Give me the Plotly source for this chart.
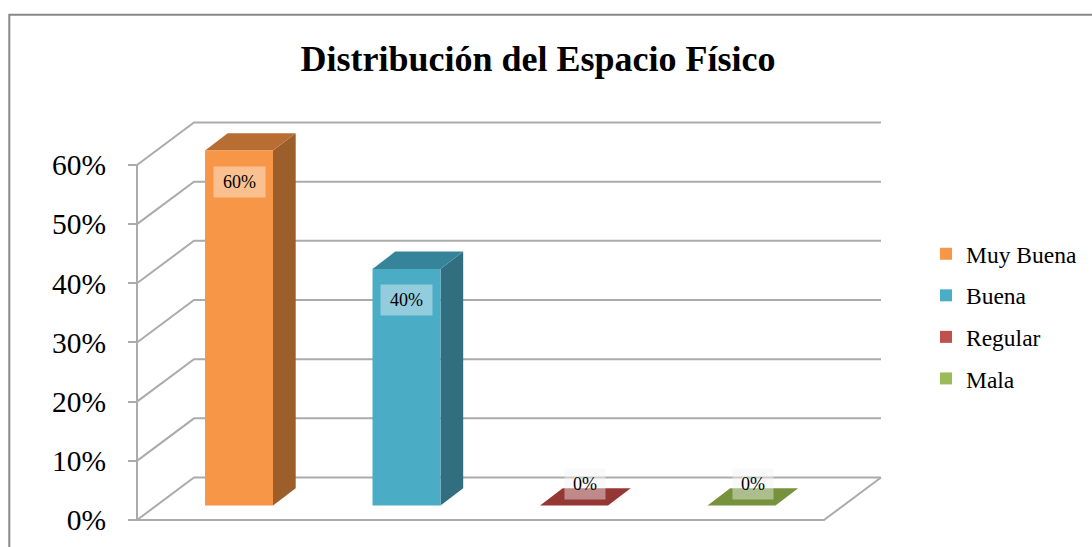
import plotly.graph_objects as go

# ---- data ----
categories = ["Muy Buena", "Buena", "Regular", "Mala"]
values = [0.60, 0.40, 0.00, 0.00]
label_texts = ["60%", "40%", "0%", "0%"]
front_colors = ["#F79646", "#4BACC6", "#C0504D", "#9BBB59"]
side_colors = ["#9C5E2B", "#316F80", "#7E2F2D", "#627A36"]
top_colors = ["#B86E33", "#36849A", "#953735", "#76923C"]
tick_vals = [0.0, 0.1, 0.2, 0.3, 0.4, 0.5, 0.6]
tick_text = ["0%", "10%", "20%", "30%", "40%", "50%", "60%"]
title_text = "Distribución del Espacio Físico"

# ---- 3D-look geometry (pixel sizes turned into axis units) ----
PX_X = 167.5          # pixels per category step
PX_Y = 591.7          # pixels per 100 %
WALL_DX, WALL_DY = 57 / PX_X, 42.5 / PX_Y     # depth of the floor / side wall
BAR_W = 68 / PX_X                              # front width of a bar
BAR_DX, BAR_DY = 22.7 / PX_X, 17.3 / PX_Y      # depth of a bar
BAR_BASE = 14.4 / PX_Y                         # bars stand inside the floor
X_FRONT = -102 / PX_X                          # front value axis
X_BACK = 642 / PX_X                            # right edge of the back wall

W, H = 1092, 547
ML, MR, MT, MB = 120, 202, 95, 17
plot_w, plot_h = W - ML - MR, H - MT - MB
x0 = X_FRONT - (137 - ML) / PX_X
y0 = -(H - MB - 520) / PX_Y

FONT = "Liberation Serif"
GRID = "#ABABAB"

fig = go.Figure()

# front faces as real bars (legend entries come from these)
for i, (cat, v) in enumerate(zip(categories, values)):
    fig.add_trace(go.Bar(
        x=[i], y=[v], base=[BAR_BASE], width=[BAR_W], name=cat,
        marker=dict(color=front_colors[i], line=dict(width=0)),
        legendgroup=cat, hoverinfo="skip",
    ))

shapes = []


def path(points):
    return "M " + " L ".join(f"{px:.5f},{py:.5f}" for px, py in points) + " Z"


def seg(points):
    return "M " + " L ".join(f"{px:.5f},{py:.5f}" for px, py in points)


# side wall diagonals + back wall gridlines
for t in tick_vals:
    shapes.append(dict(type="path", xref="x", yref="y", layer="below",
                       path=seg([(X_FRONT, t), (X_FRONT + WALL_DX, t + WALL_DY),
                                 (X_BACK, t + WALL_DY)]),
                       line=dict(color=GRID, width=2)))
# floor outline
shapes.append(dict(type="path", xref="x", yref="y", layer="below",
                   path=seg([(X_FRONT, 0), (X_BACK - WALL_DX, 0), (X_BACK, WALL_DY)]),
                   line=dict(color=GRID, width=2)))
# front value axis
shapes.append(dict(type="line", xref="x", yref="y", layer="below",
                   x0=X_FRONT, x1=X_FRONT, y0=0, y1=tick_vals[-1],
                   line=dict(color=GRID, width=2)))

# side and top faces of every bar
for i, v in enumerate(values):
    l, r = i - BAR_W / 2, i + BAR_W / 2
    b, t = BAR_BASE, BAR_BASE + v
    if v > 0:
        shapes.append(dict(type="path", xref="x", yref="y", layer="below",
                           path=path([(r, b), (r + BAR_DX, b + BAR_DY),
                                      (r + BAR_DX, t + BAR_DY), (r, t)]),
                           fillcolor=side_colors[i], line=dict(width=0)))
    shapes.append(dict(type="path", xref="x", yref="y", layer="below",
                       path=path([(l, t), (r, t), (r + BAR_DX, t + BAR_DY),
                                  (l + BAR_DX, t + BAR_DY)]),
                       fillcolor=top_colors[i], line=dict(width=0)))

# chart frame
shapes.append(dict(type="rect", xref="paper", yref="paper", layer="above",
                   x0=(9.3 - ML) / plot_w, x1=1.5,
                   y0=-1.0, y1=(H - MB - 14.7) / plot_h,
                   line=dict(color="#888888", width=2), fillcolor="rgba(0,0,0,0)"))

# value labels
annotations = []
for i, (v, txt) in enumerate(zip(values, label_texts)):
    if v > 0:
        ax, ay = i, BAR_BASE + v - 31 / PX_Y
        bg = "rgba(255,255,255,0.40)"
    else:
        ax, ay = i + BAR_DX / 2, BAR_BASE + 22 / PX_Y
        bg = "rgba(242,242,242,0.45)"
    annotations.append(dict(
        x=ax, y=ay, xref="x", yref="y", text=txt, showarrow=False,
        font=dict(family=FONT, size=18, color="#000000"),
        bgcolor=bg, borderpad=0, width=11 * len(txt) + 18, height=30,
        xanchor="center", yanchor="middle",
    ))

fig.update_layout(
    width=W, height=H,
    margin=dict(l=ML, r=MR, t=MT, b=MB, autoexpand=False),
    paper_bgcolor="white", plot_bgcolor="white",
    barmode="overlay",
    title=dict(text=title_text, x=538 / W, xref="container", xanchor="center",
               y=1 - 58 / H, yref="container", yanchor="middle",
               font=dict(family=FONT, size=36, color="#000000", weight="bold")),
    xaxis=dict(range=[x0, x0 + plot_w / PX_X], visible=False, fixedrange=True),
    yaxis=dict(range=[y0, y0 + plot_h / PX_Y], anchor="free",
               position=(137 - ML) / plot_w,
               tickvals=tick_vals, ticktext=tick_text,
               ticks="outside", ticklen=9, tickwidth=2, tickcolor=GRID,
               showgrid=False, zeroline=False, showline=False,
               tickfont=dict(family=FONT, size=29.5, color="#000000"),
               ticklabelstandoff=16, fixedrange=True),
    legend=dict(x=(926 - ML) / plot_w, xanchor="left",
                y=(H - MB - 232) / plot_h, yanchor="top",
                font=dict(family=FONT, size=23.5, color="#000000"),
                tracegroupgap=8, bgcolor="rgba(0,0,0,0)"),
    shapes=shapes, annotations=annotations,
    showlegend=True,
)

fig.write_html("out.html")
